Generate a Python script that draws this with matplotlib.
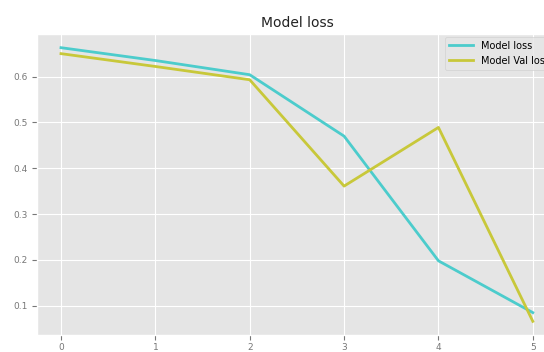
import matplotlib
matplotlib.use("Agg")
import matplotlib.pyplot as plt

epochs = [0, 1, 2, 3, 4, 5]
loss = [0.663, 0.635, 0.604, 0.470, 0.198, 0.085]
val_loss = [0.650, 0.622, 0.593, 0.361, 0.489, 0.066]

plt.style.use('ggplot')

fig = plt.figure(figsize=(5.44, 3.52), dpi=100)
ax = fig.add_axes([37.4 / 544, 17 / 352, 519 / 544, 301 / 352])

ax.plot(epochs, loss, color='#4ccccc', linewidth=2, label='Model loss')
ax.plot(epochs, val_loss, color='#c8c83a', linewidth=2, label='Model Val loss')

ax.set_title('Model loss', fontsize=10, color='#222222', pad=5)
ax.tick_params(labelsize=6.5, colors='#777777')
ax.tick_params(axis='x', pad=2)
ax.legend(loc='upper right', fontsize=7, frameon=True, handlelength=2.5,
          borderaxespad=0.3)

fig.savefig('out.png', dpi=100)
